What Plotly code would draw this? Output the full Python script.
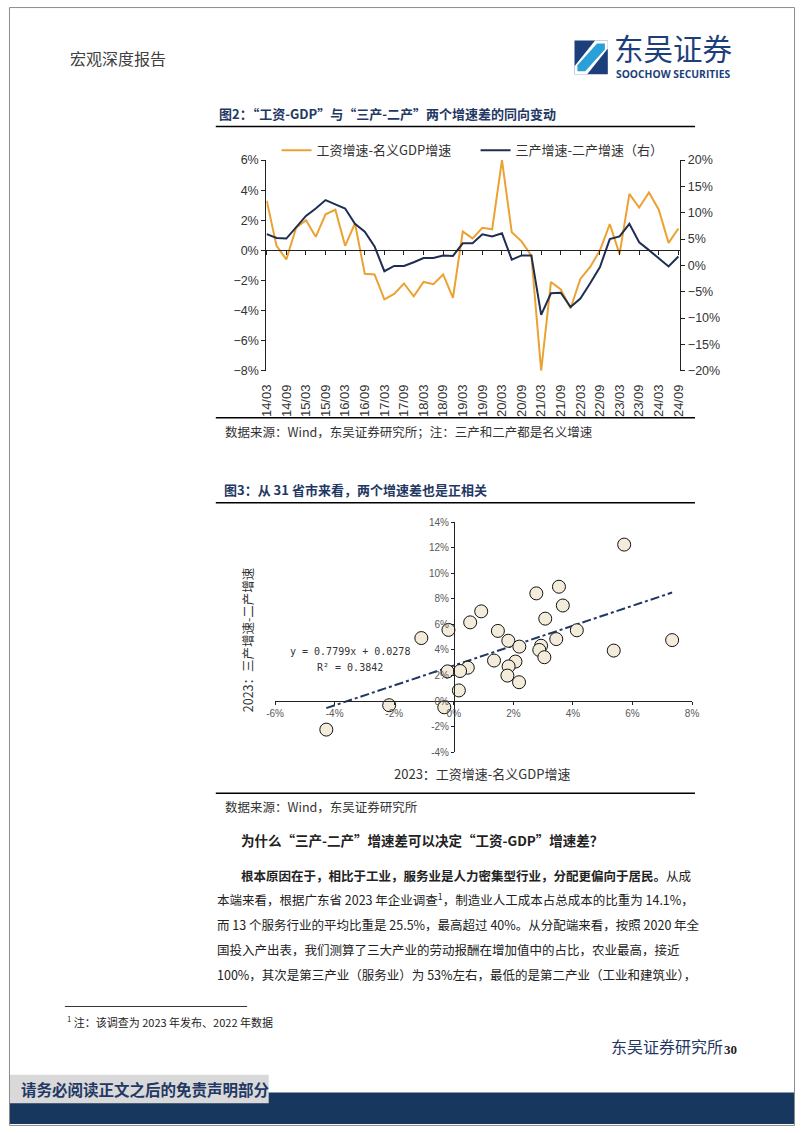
import plotly.graph_objects as go

# ---------------- data ----------------
quarters = ["14/03", "14/06", "14/09", "14/12", "15/03", "15/06", "15/09", "15/12",
            "16/03", "16/06", "16/09", "16/12", "17/03", "17/06", "17/09", "17/12",
            "18/03", "18/06", "18/09", "18/12", "19/03", "19/06", "19/09", "19/12",
            "20/03", "20/06", "20/09", "20/12", "21/03", "21/06", "21/09", "21/12",
            "22/03", "22/06", "22/09", "22/12", "23/03", "23/06", "23/09", "23/12",
            "24/03", "24/06", "24/09"]
half_year_ticks = ["14/03", "14/09", "15/03", "15/09", "16/03", "16/09", "17/03", "17/09",
                   "18/03", "18/09", "19/03", "19/09", "20/03", "20/09", "21/03", "21/09",
                   "22/03", "22/09", "23/03", "23/09", "24/03", "24/09"]
# 工资增速-名义GDP增速 (left axis, %)
wage_minus_gdp = [3.3, 0.3, -0.6, 1.5, 2.0, 0.9, 2.4, 2.7, 0.3, 1.8, -1.55, -1.6,
                  -3.25, -2.9, -2.2, -3.05, -2.1, -2.25, -1.6, -3.15, 1.25, 0.8, 1.5, 1.4,
                  6.0, 1.2, 0.6, -0.35, -8.0, -2.1, -2.6, -3.85, -1.9, -1.1, 0.0, 1.75,
                  -0.25, 3.75, 2.85, 3.85, 2.7, 0.5, 1.45]
# 三产增速-二产增速 (right axis, %)
tertiary_minus_secondary = [5.95, 5.2, 5.1, 7.3, 9.4, 10.8, 12.4, 11.6, 10.8, 7.9, 6.4, 3.6,
                            -1.1, -0.1, -0.1, 0.6, 1.4, 1.4, 1.9, 1.8, 4.2, 4.2, 5.9, 5.5,
                            6.1, 1.1, 1.9, 1.9, -9.4, -5.3, -5.2, -7.9, -6.3, -3.4, -0.3, 5.0,
                            5.5, 7.9, 4.4, 2.9, 1.4, -0.2, 1.7]
left_ticks = [-8, -6, -4, -2, 0, 2, 4, 6]
left_ticktext = ["−8%", "−6%", "−4%", "−2%", "0%", "2%", "4%", "6%"]
right_ticks = [-20, -15, -10, -5, 0, 5, 10, 15, 20]
right_ticktext = ["−20%", "−15%", "−10%", "−5%", "0%", "5%", "10%", "15%", "20%"]

# 31 provinces, 2023 (%)
prov_wage_gdp = [5.72, 2.77, 3.53, 3.66, 0.92, 3.07, 0.55, -0.18, 1.48, 4.13, -1.09,
                 1.83, 3.44, 7.33, 2.20, 2.93, 2.87, 5.37, 3.04, 1.35, 2.07, 1.84,
                 0.47, -0.21, 0.21, 1.80, 2.19, 0.17, -2.17, -0.32, -4.28]
prov_tert_sec = [12.25, 8.43, 8.95, 7.48, 7.02, 6.45, 6.16, 5.57, 5.49, 5.54, 4.93,
                 4.72, 4.85, 4.77, 4.26, 4.33, 4.00, 3.95, 3.43, 3.17, 3.09, 2.71,
                 2.61, 2.32, 2.35, 1.99, 1.47, 0.83, -0.33, -0.49, -2.24]
trend_slope = 0.7799
trend_intercept = 2.78  # in %
sc_xticks = [-6, -4, -2, 0, 2, 4, 6, 8]
sc_xticktext = ["-6%", "-4%", "-2%", "0%", "2%", "4%", "6%", "8%"]
sc_yticks = [-4, -2, 0, 2, 4, 6, 8, 10, 12, 14]
sc_yticktext = ["-4%", "-2%", "0%", "2%", "4%", "6%", "8%", "10%", "12%", "14%"]

# ---------------- helpers ----------------
W, H = 802, 1133
def px(x):
    return x / W
def py(y):
    return 1 - y / H

ORANGE = "#EBA232"
NAVY = "#1F2F52"
TITLE_BLUE = "#1F3864"
CJK = "Noto Sans CJK SC"
SANS = "Liberation Sans"

fig = go.Figure()

fig.add_trace(go.Scatter(x=quarters, y=wage_minus_gdp, mode="lines", name="工资增速-名义GDP增速",
                         line=dict(color=ORANGE, width=2), xaxis="x", yaxis="y"))
fig.add_trace(go.Scatter(x=quarters, y=tertiary_minus_secondary, mode="lines", name="三产增速-二产增速（右）",
                         line=dict(color=NAVY, width=2), xaxis="x", yaxis="y2"))

tx = [min(prov_wage_gdp), max(prov_wage_gdp)]
ty = [trend_slope * v + trend_intercept for v in tx]
fig.add_trace(go.Scatter(x=tx, y=ty, mode="lines", showlegend=False,
                         line=dict(color=TITLE_BLUE, width=2, dash="dashdot"), xaxis="x2", yaxis="y3"))
fig.add_trace(go.Scatter(x=prov_wage_gdp, y=prov_tert_sec, mode="markers", showlegend=False,
                         marker=dict(size=13, color="#F3ECDA", line=dict(color="#111111", width=1)),
                         xaxis="x2", yaxis="y3"))

axis_common = dict(showgrid=False, zeroline=False, showline=True, linecolor="#222222", linewidth=1,
                   ticks="outside", tickcolor="#222222")

fig.update_layout(
    width=W, height=H, margin=dict(l=0, r=0, t=0, b=0),
    paper_bgcolor="white", plot_bgcolor="rgba(0,0,0,0)",
    font=dict(family=CJK, color="#333333"),
    showlegend=True,
    legend=dict(orientation="h", x=px(273), y=py(145), xanchor="left", yanchor="middle",
                font=dict(family=CJK, size=13, color="#333333"), itemwidth=30,
                entrywidth=154, entrywidthmode="pixels", bgcolor="rgba(0,0,0,0)"),
    xaxis=dict(axis_common, domain=[px(262.5), px(685)], type="category", range=[-0.05, 42.2],
               anchor="free", position=py(246.4), tickvals=half_year_ticks, ticktext=half_year_ticks,
               tickangle=-90, ticklen=4, ticklabelstandoff=124,
               tickfont=dict(family=SANS, size=13, color="#333333")),
    yaxis=dict(axis_common, domain=[py(368.3), py(155)], range=[-8, 6], anchor="x",
               tickvals=left_ticks, ticktext=left_ticktext, ticklen=4,
               tickfont=dict(family=SANS, size=12.5, color="#333333")),
    yaxis2=dict(axis_common, domain=[py(368.3), py(155)], range=[-20, 20], anchor="x",
                overlaying="y", side="right", tickvals=right_ticks, ticktext=right_ticktext, ticklen=4,
                tickfont=dict(family=SANS, size=12.5, color="#333333")),
    xaxis2=dict(axis_common, domain=[px(271.5), px(697)], range=[-6, 8], anchor="free",
                position=py(702.7), tickvals=sc_xticks, ticktext=sc_xticktext, ticklen=3,
                tickfont=dict(family=SANS, size=10, color="#595959")),
    yaxis3=dict(axis_common, domain=[py(754.4), py(521.7)], range=[-4, 14], anchor="free",
                position=px(454), tickvals=sc_yticks, ticktext=sc_yticktext, ticklen=3,
                tickfont=dict(family=SANS, size=10, color="#595959")),
)

shapes = []
def hline(y, x0, x1, color="black", width=1.5):
    shapes.append(dict(type="line", xref="paper", yref="paper", x0=px(x0), x1=px(x1),
                       y0=py(y), y1=py(y), line=dict(color=color, width=width)))
def rect(x0, y0, x1, y1, color):
    shapes.append(dict(type="rect", xref="paper", yref="paper", x0=px(x0), x1=px(x1),
                       y0=py(y1), y1=py(y0), fillcolor=color, line=dict(width=0), layer="below"))

# section rules
hline(121, 211, 700)
hline(416, 211, 700)
hline(502, 211, 700)
hline(796, 211, 700)
hline(1012, 57, 243, width=0.8)

# footer
rect(0, 1099, 802, 1131, "#17375E")
rect(0, 1081, 265, 1110, "#D9D9D9")
shapes[-1]["layer"] = "above"

# page border
shapes.append(dict(type="rect", xref="paper", yref="paper", x0=0.0006, x1=0.9994, y0=0.0005, y1=0.9995,
                   line=dict(color="#8C8C8C", width=1), fillcolor="rgba(0,0,0,0)"))

# logo icon
def path(points):
    s = "M " + " L ".join(f"{px(a):.5f},{py(b):.5f}" for a, b in points) + " Z"
    return s
shapes.append(dict(type="path", xref="paper", yref="paper", path=path([(577, 34), (611, 34), (611, 68), (577, 68)]),
                   fillcolor="#1C3F7C", line=dict(width=0)))
shapes.append(dict(type="path", xref="paper", yref="paper",
                   path=path([(598, 34), (611, 34), (611, 42), (590, 68), (577, 68), (577, 60)]),
                   fillcolor="white", line=dict(width=0)))
shapes.append(dict(type="path", xref="paper", yref="paper",
                   path=path([(600, 37), (608, 37), (608, 43), (588, 65), (580, 65), (580, 59)]),
                   fillcolor="#2A9FD8", line=dict(width=0)))
fig.update_layout(shapes=shapes)

ann = []
def text(x, y, s, size=13, color="#333333", family=CJK, xanchor="left", angle=0):
    ann.append(dict(x=px(x), y=py(y), xref="paper", yref="paper", text=s, showarrow=False,
                    xanchor=xanchor, yanchor="middle", textangle=angle,
                    font=dict(family=family, size=size, color=color)))

# header
text(60, 52, "宏观深度报告", size=16, color="#404040")
text(615, 41, "东吴证券", size=29.5, color="#1C3F7C")
text(617, 67.5, "<b>SOOCHOW SECURITIES</b>", size=10.3, color="#1C3F7C", family="Open Sans")

# chart titles & sources
text(212, 108, "<b>图2：“工资-GDP”与“三产-二产”两个增速差的同向变动</b>", size=13, color=TITLE_BLUE)
text(218, 430, "数据来源：Wind，东吴证券研究所；注：三产和二产都是名义增速", size=12.5)
text(217, 489, "<b>图3：从 31 省市来看，两个增速差也是正相关</b>", size=13, color=TITLE_BLUE)
text(218, 809, "数据来源：Wind，东吴证券研究所", size=12.5)

# scatter annotations
text(243, 641, "2023：三产增速-二产增速", size=12.5, xanchor="center", angle=-90)
text(483, 776, "2023：工资增速-名义GDP增速", size=13, xanchor="center")
text(285, 653, "y = 0.7799x + 0.0278", size=10, family="DejaVu Sans Mono")
text(312, 669, "R² = 0.3842", size=10, family="DejaVu Sans Mono")

# body text
text(235, 843, "<b>为什么“三产-二产”增速差可以决定“工资-GDP”增速差？</b>", size=13.5, color="#222222")
body = [
    (235, 879, "<b>根本原因在于，相比于工业，服务业是人力密集型行业，分配更偏向于居民。</b>从成"),
    (210, 904, "本端来看，根据广东省 2023 年企业调查<sup>1</sup>，制造业人工成本占总成本的比重为 14.1%，"),
    (210, 929, "而 13 个服务行业的平均比重是 25.5%，最高超过 40%。从分配端来看，按照 2020 年全"),
    (210, 954, "国投入产出表，我们测算了三大产业的劳动报酬在增加值中的占比，农业最高，接近"),
    (210, 980, "100%，其次是第三产业（服务业）为 53%左右，最低的是第二产业（工业和建筑业），"),
]
for x, y, s in body:
    text(x, y, s, size=12.5, color="#222222")

text(57, 1027, "<sup>1</sup> 注：该调查为 2023 年发布、2022 年数据", size=11, color="#222222")
text(612, 1052, "东吴证券研究所", size=16, color="#1F3864")
text(728, 1056, "<b>30</b>", size=13, color="#222222", family="Liberation Serif")
text(10, 1096, "<b>请务必阅读正文之后的免责声明部分</b>", size=15.5, color="#1F3864")

fig.update_layout(annotations=ann)
fig.write_html("out.html")
